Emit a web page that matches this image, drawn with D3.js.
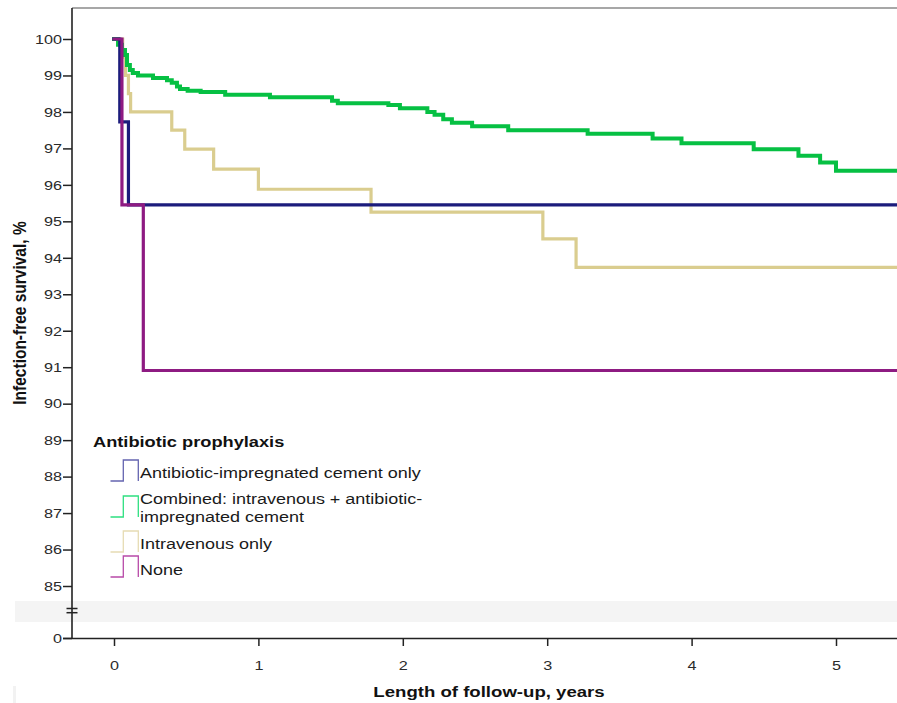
<!DOCTYPE html>
<html><head><meta charset="utf-8">
<script src="https://cdn.jsdelivr.net/npm/d3@7"></script>
<style>
body{margin:0;background:#fff;}
svg{display:block;}
text{font-family:"Liberation Sans",Arial,sans-serif;}
</style>
</head><body><svg id="c" width="897" height="703"></svg>
<script>
// ---------------- data ----------------
const legendTitle = "Antibiotic prophylaxis";
const seriesNames = ["Antibiotic-impregnated cement only",
  "Combined: intravenous + antibiotic-impregnated cement",
  "Intravenous only", "None"];
const legendLines = [["Antibiotic-impregnated cement only"],
  ["Combined: intravenous + antibiotic-", "impregnated cement"],
  ["Intravenous only"], ["None"]];
const seriesColors = ["#1c1c7c", "#06c043", "#dacd8f", "#8e1b82"];
const legendColors = ["#6464b0", "#2ee080", "#e6dcb4", "#b84aa8"];

const cementTimes    = [0, 0.04, 0.1];
const cementSurvival = [100, 97.73, 95.45];

const combinedTimes    = [0, 0.028, 0.055, 0.076, 0.09, 0.11, 0.13, 0.166, 0.27, 0.367, 0.40, 0.436, 0.457, 0.51, 0.6, 0.77, 1.08, 1.51, 1.55, 1.9, 1.98, 2.17, 2.22, 2.28, 2.34, 2.48, 2.73, 3.28, 3.73, 3.93, 4.43, 4.74, 4.89, 5.0];
const combinedSurvival = [100, 99.84, 99.7, 99.56, 99.29, 99.15, 99.07, 99.0, 98.93, 98.87, 98.8, 98.7, 98.63, 98.58, 98.55, 98.47, 98.4, 98.31, 98.24, 98.19, 98.1, 98.0, 97.92, 97.8, 97.7, 97.61, 97.5, 97.4, 97.27, 97.14, 96.98, 96.8, 96.61, 96.39];

const ivTimes    = [0, 0.06, 0.08, 0.1, 0.115, 0.40, 0.49, 0.69, 1.0, 1.78, 2.97, 3.2];
const ivSurvival = [100, 99.5, 99.0, 98.5, 98.0, 97.5, 96.98, 96.43, 95.88, 95.25, 94.52, 93.74];

const noneTimes    = [0, 0.055, 0.203];
const noneSurvival = [100, 95.45, 90.91];

const followUpEnd = 5.6;
const xTicks = [0, 1, 2, 3, 4, 5];
const yTicks = [0, 85, 86, 87, 88, 89, 90, 91, 92, 93, 94, 95, 96, 97, 98, 99, 100];
const xTitle = "Length of follow-up, years";
const yTitle = "Infection-free survival, %";

// ---------------- layout ----------------
const SX = 1.2; // horizontal text stretch of the original picture
const svg = d3.select("#c");
const x = d3.scaleLinear().domain([0, 5]).range([114, 836]);
const y = d3.scaleLinear().domain([0, 85, 100]).range([638, 586, 39]);
const plotLeft = 72, plotRight = 897, plotTop = 8, plotBottom = 638;

// break band
svg.append("rect").attr("x", 15).attr("y", 601).attr("width", 897 - 15).attr("height", 21).attr("fill", "#f4f4f4");
svg.append("rect").attr("x", 13).attr("y", 686).attr("width", 3).attr("height", 17).attr("fill", "#f2f2f2");

// top frame
svg.append("line").attr("x1", plotLeft).attr("x2", plotRight).attr("y1", plotTop).attr("y2", plotTop)
  .attr("stroke", "#8a8a8a").attr("stroke-width", 1.5);

// clip
svg.append("clipPath").attr("id", "clip").append("rect")
  .attr("x", plotLeft).attr("y", plotTop).attr("width", plotRight - plotLeft).attr("height", plotBottom - plotTop);

// series
const series = [
  {t: cementTimes, s: cementSurvival},
  {t: combinedTimes, s: combinedSurvival},
  {t: ivTimes, s: ivSurvival},
  {t: noneTimes, s: noneSurvival}
].map((d, i) => {
  const pts = d.t.map((t, j) => [t, d.s[j]]);
  pts.push([followUpEnd, d.s[d.s.length - 1]]);
  return {pts, color: seriesColors[i], idx: i};
});
const line = d3.line().x(d => x(d[0])).y(d => y(d[1])).curve(d3.curveStepAfter);
const drawOrder = [2, 1, 0, 3];
const g = svg.append("g").attr("clip-path", "url(#clip)");
drawOrder.forEach(i => {
  g.append("path").attr("d", line(series[i].pts)).attr("fill", "none")
    .attr("stroke", series[i].color).attr("stroke-width", i === 1 ? 4 : 3.2)
    .attr("stroke-linejoin", "miter").attr("stroke-linecap", "square");
});

// y axis
const yAxis = svg.append("g").attr("transform", `translate(${plotLeft},0)`)
  .call(d3.axisLeft(y).tickValues(yTicks).tickSize(9).tickSizeOuter(0));
yAxis.select(".domain").remove();
yAxis.selectAll(".tick line").attr("stroke", "#222").attr("stroke-width", 1.5);
yAxis.selectAll(".tick text").attr("x", 0).attr("transform", `translate(-10,0) scale(${SX},1)`)
  .attr("font-size", 13.5).attr("fill", "#2a2a2a").attr("font-family", null);
svg.append("line").attr("x1", plotLeft).attr("x2", plotLeft).attr("y1", plotTop).attr("y2", plotBottom)
  .attr("stroke", "#222").attr("stroke-width", 1.6);
// break marks
[608.5, 612.7].forEach(v => svg.append("line").attr("x1", 66.5).attr("x2", 77.5).attr("y1", v).attr("y2", v)
  .attr("stroke", "#222").attr("stroke-width", 1.5));

// x axis
const xAxis = svg.append("g").attr("transform", `translate(0,${plotBottom})`)
  .call(d3.axisBottom(x).tickValues(xTicks).tickSize(8).tickSizeOuter(0).tickFormat(d3.format("d")));
xAxis.select(".domain").remove();
xAxis.selectAll(".tick line").attr("stroke", "#222").attr("stroke-width", 1.5);
xAxis.selectAll(".tick text").attr("y", 0).attr("dy", null)
  .attr("transform", `translate(0,32) scale(${SX},1)`)
  .attr("font-size", 13.5).attr("fill", "#2a2a2a").attr("font-family", null);
svg.append("line").attr("x1", 63).attr("x2", plotRight).attr("y1", plotBottom + 0.5).attr("y2", plotBottom + 0.5)
  .attr("stroke", "#222").attr("stroke-width", 1.6);

// axis titles
svg.append("text").attr("transform", `translate(489,697) scale(${SX},1)`).attr("text-anchor", "middle")
  .attr("font-size", 15.5).attr("font-weight", "bold").attr("fill", "#111").text(xTitle);
svg.append("text").attr("transform", `translate(26,313) scale(${SX},1) rotate(-90)`).attr("text-anchor", "middle")
  .attr("font-size", 15.5).attr("font-weight", "bold").attr("fill", "#111").text(yTitle);

// legend
svg.append("text").attr("transform", `translate(93,447) scale(${SX},1)`)
  .attr("font-size", 15.2).attr("font-weight", "bold").attr("fill", "#111").text(legendTitle);
const legendTop = [460, 496, 531, 556];
const legendBase = [478, 504, 549, 575];
const iconH = 21;
legendLines.forEach((lines, i) => {
  const top = legendTop[i], bot = top + iconH;
  svg.append("path").attr("d", `M110.5,${bot}H123.3V${top}H138.3V${bot}`).attr("fill", "none")
    .attr("stroke", legendColors[i]).attr("stroke-width", 1.3);
  lines.forEach((ln, k) => {
    svg.append("text").attr("transform", `translate(140,${legendBase[i] + k * 17.5}) scale(${SX},1)`)
      .attr("font-size", 15).attr("fill", "#1a1a1a").text(ln);
  });
});
</script>
</body></html>
